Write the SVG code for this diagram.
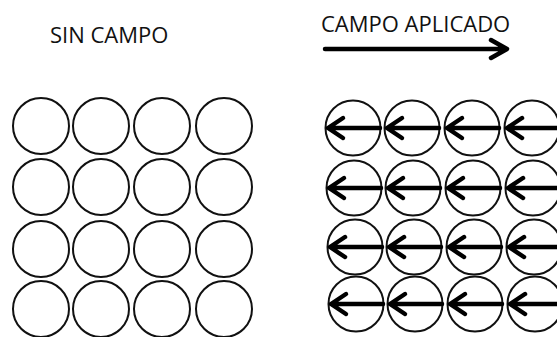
<svg xmlns="http://www.w3.org/2000/svg" xmlns:xlink="http://www.w3.org/1999/xlink" width="557" height="337" viewBox="0 0 557 337">
<style>
.lbl{font-family:"Open Sans","Liberation Sans",sans-serif;font-size:22px;fill:#111}
.c{fill:none;stroke:#111;stroke-width:2}
.a{fill:none;stroke:#000;stroke-width:4.5;stroke-linecap:round;stroke-linejoin:round}
</style>
<defs>
<g id="dip"><circle class="c" cx="0" cy="0" r="27.5"/><path class="a" d="M27 0H-25M-10-10L-25 0L-10 10"/></g>
<circle id="ring" class="c" cx="0" cy="0" r="28"/>
</defs>
<rect width="557" height="337" fill="#fff"/>
<g id="labels">
<text class="lbl" x="50" y="43">SIN CAMPO</text>
<text class="lbl" x="321" y="32">CAMPO APLICADO</text>
</g>
<g id="connectors">
<path class="a" d="M325 49H506M491 40L507 49L491 58"/>
</g>
<g id="sin-campo">
<g id="s11"><use xlink:href="#ring" x="41" y="126"/></g>
<g id="s12"><use xlink:href="#ring" x="101" y="126"/></g>
<g id="s13"><use xlink:href="#ring" x="162" y="126"/></g>
<g id="s14"><use xlink:href="#ring" x="224" y="126"/></g>
<g id="s21"><use xlink:href="#ring" x="41" y="187"/></g>
<g id="s22"><use xlink:href="#ring" x="101" y="187"/></g>
<g id="s23"><use xlink:href="#ring" x="162" y="187"/></g>
<g id="s24"><use xlink:href="#ring" x="224" y="187"/></g>
<g id="s31"><use xlink:href="#ring" x="41" y="249"/></g>
<g id="s32"><use xlink:href="#ring" x="101" y="249"/></g>
<g id="s33"><use xlink:href="#ring" x="162" y="249"/></g>
<g id="s34"><use xlink:href="#ring" x="224" y="249"/></g>
<g id="s41"><use xlink:href="#ring" x="41" y="309"/></g>
<g id="s42"><use xlink:href="#ring" x="101" y="309"/></g>
<g id="s43"><use xlink:href="#ring" x="162" y="309"/></g>
<g id="s44"><use xlink:href="#ring" x="224" y="309"/></g>
</g>
<g id="campo-aplicado">
<g id="a11"><use xlink:href="#dip" x="353" y="128"/></g>
<g id="a12"><use xlink:href="#dip" x="412" y="128"/></g>
<g id="a13"><use xlink:href="#dip" x="472" y="128"/></g>
<g id="a14"><use xlink:href="#dip" x="532" y="128"/></g>
<g id="a21"><use xlink:href="#dip" x="354" y="188"/></g>
<g id="a22"><use xlink:href="#dip" x="413" y="188"/></g>
<g id="a23"><use xlink:href="#dip" x="473" y="188"/></g>
<g id="a24"><use xlink:href="#dip" x="533" y="188"/></g>
<g id="a31"><use xlink:href="#dip" x="355" y="247"/></g>
<g id="a32"><use xlink:href="#dip" x="414" y="247"/></g>
<g id="a33"><use xlink:href="#dip" x="474" y="247"/></g>
<g id="a34"><use xlink:href="#dip" x="534" y="247"/></g>
<g id="a41"><use xlink:href="#dip" x="356" y="304"/></g>
<g id="a42"><use xlink:href="#dip" x="415" y="304"/></g>
<g id="a43"><use xlink:href="#dip" x="475" y="304"/></g>
<g id="a44"><use xlink:href="#dip" x="535" y="304"/></g>
</g>
</svg>
